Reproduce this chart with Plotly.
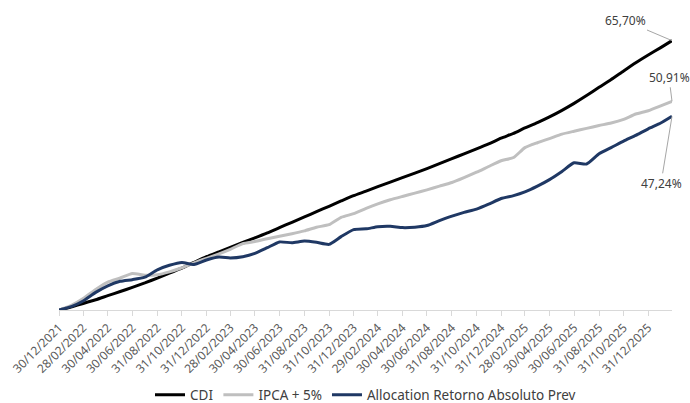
import pandas as pd
import plotly.graph_objects as go

# month-end dates: 30/12/2021 then each month-end to Feb 2026
dates = ["2021-12-30"] + [d.strftime("%Y-%m-%d") for d in pd.date_range("2022-01-31", periods=50, freq="ME")]

cdi = [0, 0.8, 1.6, 2.5, 3.5, 4.5, 5.5, 6.6, 7.8, 9.0, 10.2, 11.6, 13.0, 14.2, 15.3, 16.5,
       17.6, 18.8, 20.1, 21.4, 22.7, 24.0, 25.3, 26.6, 27.9, 29.0, 30.1, 31.2, 32.3, 33.4,
       34.5, 35.7, 36.9, 38.1, 39.3, 40.5, 41.9, 43.1, 44.4, 45.7, 47.1, 48.7, 50.4, 52.3,
       54.3, 56.2, 58.3, 60.3, 62.2, 64.0, 65.70]

ipca5 = [0, 1.2, 2.8, 5.0, 6.8, 7.8, 8.9, 8.5, 8.6, 9.3, 10.3, 11.5, 12.6, 13.7, 14.8, 16.2,
         16.7, 17.4, 18.0, 18.6, 19.3, 20.2, 20.8, 22.6, 23.5, 24.8, 25.9, 26.9, 27.7, 28.5,
         29.3, 30.2, 31.1, 32.3, 33.6, 35.0, 36.4, 37.2, 39.6, 40.8, 41.8, 42.9, 43.6, 44.3,
         45.0, 45.6, 46.5, 47.8, 48.6, 49.8, 50.91]

alloc = [0, 0.9, 2.2, 4.3, 5.9, 7.0, 7.4, 8.0, 9.8, 10.9, 11.6, 11.1, 12.2, 12.9, 12.7, 13.0,
         13.8, 15.2, 16.6, 16.4, 16.8, 16.5, 16.0, 17.9, 19.6, 19.8, 20.3, 20.4, 20.1, 20.2,
         20.6, 21.8, 22.9, 23.8, 24.6, 25.8, 27.2, 27.9, 28.8, 30.2, 31.8, 33.8, 35.9, 35.6,
         38.1, 39.6, 41.2, 42.6, 44.2, 45.6, 47.24]

tick_labels = ["30/12/2021", "28/02/2022", "30/04/2022", "30/06/2022", "31/08/2022", "31/10/2022",
               "31/12/2022", "28/02/2023", "30/04/2023", "30/06/2023", "31/08/2023", "31/10/2023",
               "31/12/2023", "29/02/2024", "30/04/2024", "30/06/2024", "31/08/2024", "31/10/2024",
               "31/12/2024", "28/02/2025", "30/04/2025", "30/06/2025", "31/08/2025", "31/10/2025",
               "31/12/2025"]
tick_vals = dates[0:49:2]

end_labels = ["65,70%", "50,91%", "47,24%"]

FONT = "Noto Sans"
fig = go.Figure()
fig.add_trace(go.Scatter(x=dates, y=cdi, name="CDI", mode="lines",
                         line=dict(color="#000000", width=3, shape="spline", smoothing=0.5)))
fig.add_trace(go.Scatter(x=dates, y=ipca5, name="IPCA + 5%", mode="lines",
                         line=dict(color="#BFBFBF", width=3, shape="spline", smoothing=0.5)))
fig.add_trace(go.Scatter(x=dates, y=alloc, name="Allocation Retorno Absoluto Prev", mode="lines",
                         line=dict(color="#1F3864", width=3, shape="spline", smoothing=0.5)))

offsets = [(-47, -20), (-3, -24), (-11, 67)]
for series, lab, (ax, ay) in zip([cdi, ipca5, alloc], end_labels, offsets):
    fig.add_annotation(x=dates[-1], y=series[-1], text=lab, showarrow=True,
                       arrowhead=0, arrowwidth=1, arrowcolor="#A6A6A6",
                       ax=ax, ay=ay, standoff=0,
                       font=dict(family=FONT, size=12, color="#404040"))

fig.update_layout(
    width=690, height=403,
    margin=dict(l=59, r=18, t=23, b=93, autoexpand=False),
    paper_bgcolor="white", plot_bgcolor="white",
    font=dict(family=FONT, color="#595959"),
    showlegend=True,
    legend=dict(orientation="h", x=0.5, xanchor="center", y=-0.296, yanchor="middle",
                font=dict(family=FONT, size=13.5, color="#404040")),
    xaxis=dict(type="date", range=[dates[0], dates[-1]], tickvals=tick_vals, ticktext=tick_labels,
               tickangle=-45, tickfont=dict(size=12, color="#595959"), automargin=False,
               showline=True, linecolor="#D9D9D9", linewidth=1,
               ticks="outside", ticklen=5, tickcolor="#D9D9D9",
               showgrid=False, zeroline=False),
    yaxis=dict(range=[0, 70], visible=False, showgrid=False, zeroline=False, automargin=False),
)

fig.write_html("out.html", config={"displayModeBar": False},
               post_script="document.body.style.margin='0';document.body.style.overflow='hidden';")
